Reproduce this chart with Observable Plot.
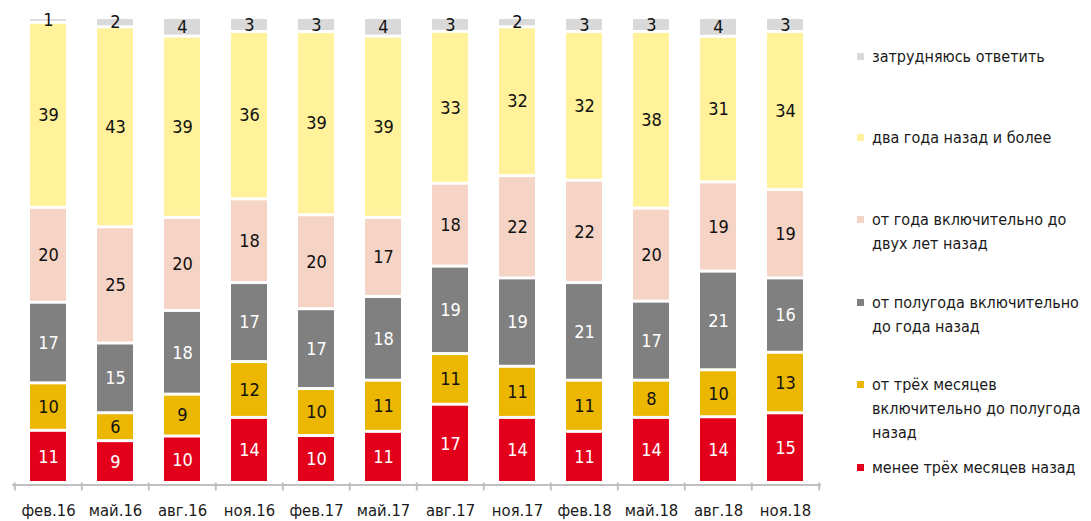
<!DOCTYPE html>
<html>
<head>
<meta charset="utf-8">
<script src="https://cdn.jsdelivr.net/npm/d3@7"></script>
<script src="https://cdn.jsdelivr.net/npm/@observablehq/plot@0.6"></script>
<style>
  body { margin: 0; background: #fff; }
  #wrap { position: relative; width: 1091px; height: 521px; font-family: "DejaVu Sans Condensed", "DejaVu Sans", sans-serif; }
  #chart svg { display: block; }
  .legend { position: absolute; left: 857px; top: 0; color: #1a1a1a; font-size: 16px; line-height: 24px; }
  .legend .item { position: absolute; left: 0; width: 234px; }
  .legend .swatch { position: absolute; left: 0; top: 8px; width: 7px; height: 7px; }
  .legend .label { position: absolute; left: 15px; top: 0; width: 220px; white-space: nowrap; }
</style>
</head>
<body>
<div id="wrap">
  <div id="chart"></div>
  <div class="legend" id="legend"></div>
</div>
<script>
// Survey periods (x axis)
const periods = ["фев.16", "май.16", "авг.16", "ноя.16", "фев.17", "май.17", "авг.17", "ноя.17", "фев.18", "май.18", "авг.18", "ноя.18"];

// Shares of answers, %, per period
const lessThan3Months = [11, 9, 10, 14, 10, 11, 17, 14, 11, 14, 14, 15];
const from3MonthsTo6 = [10, 6, 9, 12, 10, 11, 11, 11, 11, 8, 10, 13];
const from6MonthsTo1Year = [17, 15, 18, 17, 17, 18, 19, 19, 21, 17, 21, 16];
const from1YearTo2 = [20, 25, 20, 18, 20, 17, 18, 22, 22, 20, 19, 19];
const twoYearsOrMore = [39, 43, 39, 36, 39, 39, 33, 32, 32, 38, 31, 34];
const hardToSay = [1, 2, 4, 3, 3, 4, 3, 2, 3, 3, 4, 3];

// Series from the bottom of each bar to the top
const seriesNames = [
  "менее трёх месяцев назад",
  "от трёх месяцев включительно до полугода назад",
  "от полугода включительно до года назад",
  "от года включительно до двух лет назад",
  "два года назад и более",
  "затрудняюсь ответить"
];
const seriesValues = [lessThan3Months, from3MonthsTo6, from6MonthsTo1Year, from1YearTo2, twoYearsOrMore, hardToSay];
const seriesColors = ["#e2001a", "#ebb700", "#808080", "#f5d3c5", "#fff29b", "#d9d9d9"];
const whiteLabelSeries = new Set([seriesNames[0], seriesNames[2]]);

// Legend entries, top to bottom, with their line breaks
const legendLines = [
  ["затрудняюсь ответить"],
  ["два года назад и более"],
  ["от года включительно до", "двух лет назад"],
  ["от полугода включительно", "до года назад"],
  ["от трёх месяцев", "включительно до полугода", "назад"],
  ["менее трёх месяцев назад"]
];
const legendColors = ["#d9d9d9", "#fff29b", "#f5d3c5", "#808080", "#ebb700", "#e2001a"];
const legendTops = [45, 126, 208, 291, 373, 456];

const rows = [];
seriesNames.forEach((name, s) => {
  seriesValues[s].forEach((v, i) => rows.push({period: periods[i], series: name, value: v}));
});

const W = 1091, H = 521;
const mL = 12, mR = 270, mT = 17.5, mB = 38.5;
const step = (W - mL - mR) / periods.length;
const font = "DejaVu Sans Condensed, DejaVu Sans, sans-serif";

const stack = {x: "period", y: "value", z: "series", order: seriesNames, offset: "normalize"};

const chart = Plot.plot({
  width: W,
  height: H,
  marginLeft: mL,
  marginRight: mR,
  marginTop: mT,
  marginBottom: mB,
  style: {fontFamily: font, background: "white"},
  x: {domain: periods, paddingInner: 0.466, paddingOuter: 0.233, axis: null},
  y: {domain: [0, 1], axis: null},
  color: {domain: seriesNames, range: seriesColors},
  marks: [
    Plot.barY(rows, Plot.stackY({...stack, fill: "series", insetTop: 1.5, insetBottom: 1.5})),
    Plot.text(rows, Plot.stackY({...stack, text: d => whiteLabelSeries.has(d.series) ? null : String(d.value), fill: "#111", fontSize: 18})),
    Plot.text(rows, Plot.stackY({...stack, text: d => whiteLabelSeries.has(d.series) ? String(d.value) : null, fill: "white", fontSize: 18})),
    Plot.ruleY([0], {stroke: "#bfbfbf", strokeWidth: 2, dy: 2}),
    Plot.axisX({ticks: periods, tickSize: 8, tickFormat: () => null, label: null, dx: -step / 2, stroke: "#bfbfbf", strokeWidth: 2}),
    Plot.axisX({ticks: [periods[periods.length - 1]], tickSize: 8, tickFormat: () => null, label: null, dx: step / 2, stroke: "#bfbfbf", strokeWidth: 2}),
    Plot.axisX({ticks: periods, tickSize: 0, tickPadding: 21, label: null, fontSize: 16.5, fill: "#1a1a1a"})
  ]
});
document.getElementById("chart").appendChild(chart);

const legend = document.getElementById("legend");
legendLines.forEach((lines, i) => {
  const item = document.createElement("div");
  item.className = "item";
  item.style.top = legendTops[i] + "px";
  const sw = document.createElement("div");
  sw.className = "swatch";
  sw.style.background = legendColors[i];
  const lab = document.createElement("div");
  lab.className = "label";
  lab.innerHTML = lines.join("<br>");
  item.appendChild(sw);
  item.appendChild(lab);
  legend.appendChild(item);
});
</script>
</body>
</html>
